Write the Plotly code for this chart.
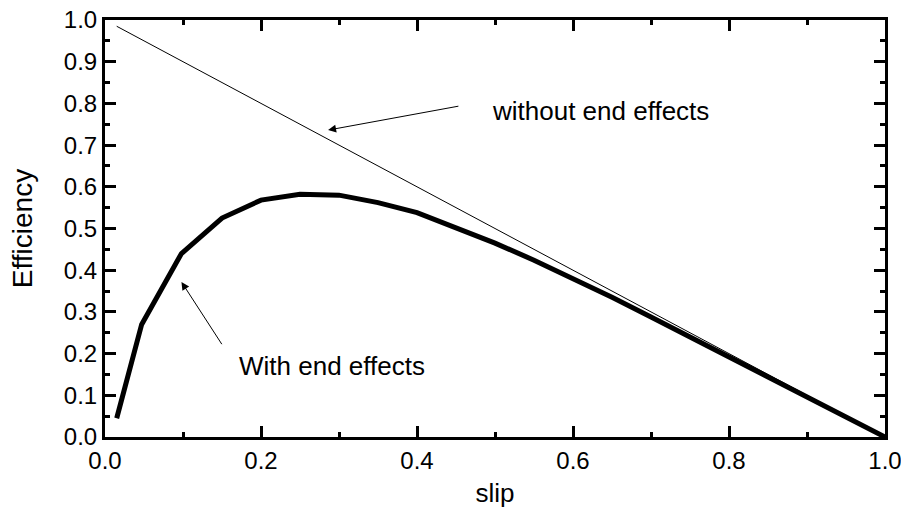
import plotly.graph_objects as go

# data
slip_ideal = [0.015, 1.0]
eff_ideal = [0.985, 0.0]

slip_end = [0.015, 0.047, 0.098, 0.15, 0.2, 0.25, 0.3, 0.35, 0.4, 0.45, 0.5,
            0.55, 0.6, 0.65, 0.7, 0.75, 0.8, 0.85, 0.9, 0.95, 1.0]
eff_end = [0.045, 0.27, 0.44, 0.525, 0.568, 0.582, 0.58, 0.562, 0.538, 0.503, 0.465,
           0.424, 0.38, 0.335, 0.288, 0.24, 0.19, 0.143, 0.095, 0.047, 0.0]

x_ticks = [0.0, 0.2, 0.4, 0.6, 0.8, 1.0]
y_ticks = [round(0.1 * i, 1) for i in range(11)]

FONT = "Liberation Sans, Arial, Helvetica, sans-serif"

fig = go.Figure()
fig.add_trace(go.Scatter(x=slip_ideal, y=eff_ideal, mode="lines",
                         line=dict(color="black", width=1), showlegend=False,
                         cliponaxis=False))
fig.add_trace(go.Scatter(x=slip_end, y=eff_end, mode="lines",
                         line=dict(color="black", width=5), showlegend=False,
                         cliponaxis=False))

axis_common = dict(
    showgrid=False, zeroline=False, showline=True, linecolor="black", linewidth=3,
    mirror="ticks", ticks="inside", ticklen=11, tickwidth=3, tickcolor="black",
    tickfont=dict(family=FONT, size=24, color="black"), automargin=False,
    ticklabeloverflow="allow",
)

fig.update_xaxes(range=[0, 1.0], tickvals=x_ticks, ticktext=[f"{v:.1f}" for v in x_ticks],
                 minor=dict(ticks="inside", ticklen=5, tickwidth=3, tickcolor="black", dtick=0.1,
                            showgrid=False),
                 title=dict(text="slip", font=dict(family=FONT, size=26, color="black"), standoff=12),
                 **axis_common)
fig.update_yaxes(range=[0, 1.0], tickvals=y_ticks, ticktext=[f"{v:.1f}" for v in y_ticks],
                 minor=dict(ticks="inside", ticklen=5, tickwidth=3, tickcolor="black", dtick=0.05,
                            showgrid=False),
                 title=dict(text="Efficiency", font=dict(family=FONT, size=28, color="black"), standoff=24),
                 **axis_common)

# annotations: arrows
fig.add_annotation(x=0.286, y=0.736, ax=0.455, ay=0.794, axref="x", ayref="y",
                   xref="x", yref="y", text="", showarrow=True, arrowhead=2,
                   arrowsize=1.6, arrowwidth=1, arrowcolor="black")
fig.add_annotation(x=0.098, y=0.372, ax=0.151, ay=0.219, axref="x", ayref="y",
                   xref="x", yref="y", text="", showarrow=True, arrowhead=2,
                   arrowsize=1.6, arrowwidth=1, arrowcolor="black")
# annotation texts
fig.add_annotation(x=0.494, y=0.782, xref="x", yref="y", text="without end effects",
                   showarrow=False, xanchor="left", yanchor="middle",
                   font=dict(family=FONT, size=26, color="black"))
fig.add_annotation(x=0.169, y=0.170, xref="x", yref="y", text="With end effects",
                   showarrow=False, xanchor="left", yanchor="middle",
                   font=dict(family=FONT, size=26, color="black"))

fig.update_layout(width=901, height=520, margin=dict(l=105, r=16, t=20, b=83),
                  plot_bgcolor="white", paper_bgcolor="white",
                  font=dict(family=FONT, color="black"))

fig.write_html("out.html")
